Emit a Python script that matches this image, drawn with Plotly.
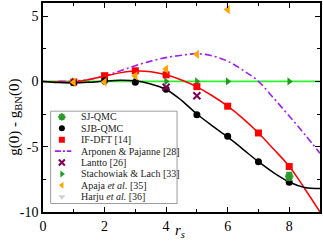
import plotly.graph_objects as go

# ---------------- data ----------------
# smooth fitted curves
curve_x = [0, 0.5, 1, 1.5, 2, 2.5, 3, 3.5, 4, 4.5, 5, 5.5, 6, 6.5, 7, 7.5, 8, 8.5, 9]
sjb_curve = [0, -0.08, -0.12, -0.07, 0.02, 0.08, 0.04, -0.2, -0.62, -1.45, -2.5, -3.4, -4.25, -5.2, -6.15, -7.0, -7.7, -8.12, -8.2]
ifdft_curve = [0, -0.05, -0.04, 0.15, 0.4, 0.65, 0.79, 0.74, 0.5, 0.1, -0.42, -1.1, -1.9, -2.85, -3.95, -5.2, -6.5, -8.2, -10.0]
arp_x = [0.5, 1, 1.5, 2, 2.5, 3, 3.5, 4, 4.5, 5, 5.5, 6, 6.5, 7, 7.5, 8, 8.5, 9]
arp_curve = [0, 0.02, 0.15, 0.42, 0.8, 1.2, 1.55, 1.82, 2.0, 2.12, 1.95, 1.55, 0.85, 0.0, -1.3, -2.65, -4.05, -5.5]
bn_x = [0, 9]
bn_line = [0, 0]

# points
sj_x = [8]
sj_y = [-7.27]
sj_err = [0.3]
sjb_x = [1, 2, 3, 4, 5, 6, 7, 8]
sjb_y = [-0.1, 0.05, -0.07, -0.6, -2.55, -4.2, -6.15, -7.73]
if_x = [1, 2, 3, 4, 5, 6, 7, 8]
if_y = [-0.05, 0.43, 0.81, 0.5, -0.4, -1.9, -3.95, -6.52]
lan_x = [4, 5]
lan_y = [-0.45, -1.1]
sta_x = [1, 2, 3, 4, 5, 6, 8]
sta_y = [0, 0, 0, 0, 0, 0, 0]
apa_x = [1, 2, 3, 4, 5, 6]
apa_y = [-0.07, -0.05, 0.43, 0.94, 2.07, 5.5]
har_x = [1, 2]
har_y = [-0.05, 0.56]

legend_labels = ["SJ-QMC", "SJB-QMC", "IF-DFT [14]", "Arponen &amp; Pajanne [28]",
                 "Lantto [26]", "Stachowiak &amp; Lach [33]",
                 "Apaja <i>et al.</i> [35]", "Harju <i>et al.</i> [36]"]

x_tickvals = [0, 2, 4, 6, 8]
y_tickvals = [-10, -5, 0, 5]
y_ticktext = ["-10", "-5", "0", "5"]

# ---------------- styles ----------------
GREEN_PT = "#1f9a1f"
SJ_GREEN = "#2a9a2a"
LIME = "#2ef02e"
PURPLE = "#a020f0"
MAROON = "#800055"
ORANGE = "#ffa500"
GRAY = "#cfcfcf"
RED = "#ff0000"
FONT = "Liberation Serif"
DASH = "7px,3px,2px,3px"

fig = go.Figure()

# lines
fig.add_trace(go.Scatter(x=bn_x, y=bn_line, mode="lines", line=dict(color=LIME, width=1.8), showlegend=False))
fig.add_trace(go.Scatter(x=arp_x, y=arp_curve, mode="lines", line=dict(color=PURPLE, width=1.6, dash=DASH, shape="spline"), showlegend=False))
fig.add_trace(go.Scatter(x=curve_x, y=ifdft_curve, mode="lines", line=dict(color=RED, width=1.5, shape="spline"), showlegend=False))
fig.add_trace(go.Scatter(x=curve_x, y=sjb_curve, mode="lines", line=dict(color="black", width=1.5, shape="spline"), showlegend=False))

# markers
fig.add_trace(go.Scatter(x=har_x, y=har_y, mode="markers", marker=dict(symbol="triangle-down", color=GRAY, size=8), showlegend=False))
fig.add_trace(go.Scatter(x=sta_x, y=sta_y, mode="markers", marker=dict(symbol="triangle-right", color=GREEN_PT, size=7), showlegend=False))
fig.add_trace(go.Scatter(x=if_x, y=if_y, mode="markers", marker=dict(symbol="square", color=RED, size=7), showlegend=False))
fig.add_trace(go.Scatter(x=sjb_x, y=sjb_y, mode="markers", marker=dict(symbol="circle", color="black", size=7), showlegend=False))
fig.add_trace(go.Scatter(x=lan_x, y=lan_y, mode="markers", marker=dict(symbol="x-thin-open", color=MAROON, size=7, line=dict(color=MAROON, width=2)), showlegend=False))
fig.add_trace(go.Scatter(x=apa_x, y=apa_y, mode="markers", marker=dict(symbol="triangle-left", color=ORANGE, size=8), showlegend=False))
fig.add_trace(go.Scatter(x=sj_x, y=sj_y, mode="markers",
                         error_y=dict(type="data", array=sj_err, color=SJ_GREEN, thickness=1.5, width=3),
                         marker=dict(symbol="asterisk-open", color=SJ_GREEN, size=7, line=dict(color=SJ_GREEN, width=2.2)), showlegend=False))

# ---------------- manual legend ----------------
PLOT_TOP, PLOT_BOT, PLOT_L, PLOT_R = 2, 212, 43, 322
def py(p):
    return (PLOT_BOT - p) / (PLOT_BOT - PLOT_TOP)
def px(p):
    return (p - PLOT_L) / (PLOT_R - PLOT_L)

leg_styles = [
    dict(symbol="asterisk-open", color=SJ_GREEN, size=6, line=dict(color=SJ_GREEN, width=2)),
    dict(symbol="circle", color="black", size=6),
    dict(symbol="square", color=RED, size=6),
    None,
    dict(symbol="x-thin-open", color=MAROON, size=6, line=dict(color=MAROON, width=2)),
    dict(symbol="triangle-right", color=GREEN_PT, size=6),
    dict(symbol="triangle-left", color=ORANGE, size=6),
    dict(symbol="triangle-down", color=GRAY, size=6),
]

fig.add_shape(type="rect", xref="paper", yref="paper",
              x0=px(50.7), x1=px(178), y0=py(203.5), y1=py(110.7),
              line=dict(color="#9a9a9a", width=1), fillcolor="white", layer="below")

for i, (lab, st) in enumerate(zip(legend_labels, leg_styles)):
    yy = py(116.5 + 11.45 * i)
    if st is None:
        fig.add_trace(go.Scatter(x=[px(55), px(71.5)], y=[yy, yy], xaxis="x2", yaxis="y2", mode="lines",
                                 line=dict(color=PURPLE, width=1.6, dash="6px,2px,2px,2px"), showlegend=False))
    else:
        fig.add_trace(go.Scatter(x=[px(62)], y=[yy], xaxis="x2", yaxis="y2", mode="markers",
                                 marker=st, showlegend=False))
    fig.add_annotation(text=lab, xref="paper", yref="paper", x=px(79.5), y=yy,
                       xanchor="left", yanchor="middle", showarrow=False,
                       font=dict(family=FONT, size=10, color="#222"))

# axis titles
fig.add_annotation(text="<i>r</i><sub><i>s</i></sub>", xref="paper", yref="paper",
                   x=px(181), y=py(231), xanchor="center", yanchor="middle", showarrow=False,
                   font=dict(family=FONT, size=15, color="black"))
fig.add_annotation(text="g(0) - g<sub>BN</sub>(0)", xref="paper", yref="paper",
                   x=px(15), y=py(117), xanchor="center", yanchor="middle", showarrow=False, textangle=-90,
                   font=dict(family=FONT, size=15, color="black"))

axis_common = dict(showgrid=False, zeroline=False, showline=True, linecolor="black", linewidth=1.5,
                   mirror="ticks", ticks="inside", ticklen=5, tickwidth=1.2, tickcolor="black",
                   tickfont=dict(family=FONT, size=14, color="black"))

fig.update_layout(
    width=323, height=243,
    margin=dict(l=PLOT_L, r=323 - PLOT_R, t=PLOT_TOP, b=243 - PLOT_BOT),
    paper_bgcolor="white", plot_bgcolor="white",
    showlegend=False,
    xaxis=dict(range=[0, 9], tickvals=x_tickvals, minor=dict(dtick=1, tick0=0, ticks="inside", ticklen=3, tickcolor="black"),
               **axis_common),
    yaxis=dict(range=[-10, 6], tickvals=y_tickvals, ticktext=y_ticktext,
               minor=dict(dtick=2.5, tick0=0, ticks="inside", ticklen=3, tickcolor="black"), **axis_common),
    xaxis2=dict(overlaying="x", range=[0, 1], visible=False, fixedrange=True),
    yaxis2=dict(overlaying="y", range=[0, 1], visible=False, fixedrange=True),
)

fig.write_html("out.html", config={"displayModeBar": False},
               post_script="document.body.style.margin='0';document.body.style.overflow='hidden';")
